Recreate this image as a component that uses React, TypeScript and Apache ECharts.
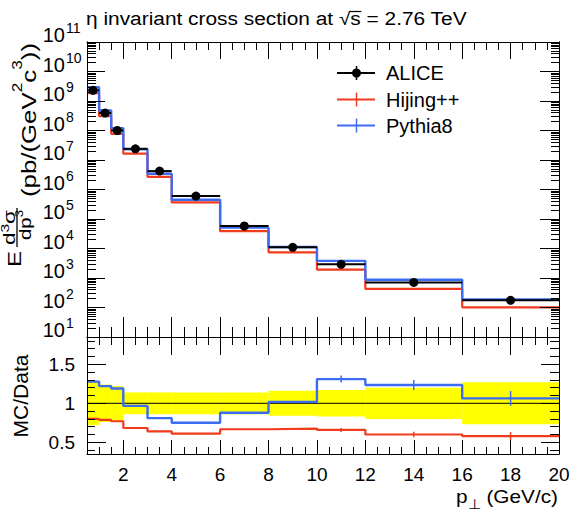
import React, { useEffect, useRef } from 'react';
import * as echarts from 'echarts';

// pT bin edges in GeV/c
const binEdges = [0.5, 1, 1.5, 2, 3, 4, 6, 8, 10, 12, 16, 20];
// invariant cross section per bin, pb/(GeV^2 c^3)
const aliceXsec = [2.3e9, 3.9e8, 1.0e8, 2.4e7, 4.2e6, 6.0e5, 5.8e4, 1.1e4, 2.9e3, 7.1e2, 1.75e2];
const hijingXsec = [1.84e9, 3.07e8, 7.7e7, 1.64e7, 2.69e6, 3.66e5, 3.87e4, 7.43e3, 1.91e3, 4.26e2, 1.015e2];
const pythiaXsec = [2.94e9, 4.76e8, 1.19e8, 2.32e7, 3.4e6, 4.5e5, 5.1e4, 1.12e4, 3.8e3, 8.77e2, 1.86e2];
// relative uncertainty of the measurement (band around 1)
const aliceRelUnc = [0.28, 0.24, 0.22, 0.14, 0.14, 0.14, 0.14, 0.16, 0.17, 0.2, 0.27];
// statistical uncertainty of the MC/Data ratios
const hijingRatioUnc = [0, 0, 0, 0, 0, 0, 0, 0.008, 0.025, 0.035, 0.05];
const pythiaRatioUnc = [0, 0, 0, 0, 0, 0, 0, 0.01, 0.045, 0.065, 0.095];

const decadeTicks = [1e1, 1e2, 1e3, 1e4, 1e5, 1e6, 1e7, 1e8, 1e9, 1e10, 1e11];
const ratioTickLabels = [0.5, 1, 1.5];
const ptTickLabels = [2, 4, 6, 8, 10, 12, 14, 16, 18, 20];
const legendNames = ['ALICE', 'Hijing++', 'Pythia8'];

const FONT = "'Liberation Sans', Arial, Helvetica, sans-serif";
const BLACK = '#000000';
const RED = '#f23a1d';
const BLUE = '#3b6cf2';
const YELLOW = '#ffff00';

const PT_MIN = 0.5;
const PT_MAX = 20;

const ptMinorTicks: number[] = [];
for (let i = 1; i <= 40; i++) ptMinorTicks.push(i * 0.5);
const ratioMinorTicks: number[] = [];
for (let i = 4; i <= 18; i++) ratioMinorTicks.push(i / 10);
const logMinorTicks: number[] = [];
for (let e = 1; e <= 10; e++) for (let m = 2; m <= 9; m++) logMinorTicks.push(m * Math.pow(10, e));

let measureCtx: CanvasRenderingContext2D | null = null;
function textWidth(t: string, size: number): number {
  if (!measureCtx) measureCtx = document.createElement('canvas').getContext('2d');
  measureCtx!.font = `${size}px ${FONT}`;
  return measureCtx!.measureText(t).width;
}

type Piece = { t: string; size: number; dy: number };
// lays pieces of text one after another along a line, stretched to a given length
function runPieces(pieces: Piece[], x0: number, y0: number, length: number) {
  const widths = pieces.map((p) => textWidth(p.t, p.size));
  const total = widths.reduce((a, b) => a + b, 0);
  const k = length / total;
  let cur = x0;
  return pieces.map((p, i) => {
    const el = {
      type: 'text',
      x: cur,
      y: y0 + p.dy,
      scaleX: k,
      silent: true,
      style: {
        text: p.t,
        fontSize: p.size,
        fontFamily: FONT,
        fill: BLACK,
        align: 'left',
        verticalAlign: 'middle',
        textAlign: 'left',
        textVerticalAlign: 'middle',
      },
    };
    cur += widths[i] * k;
    return el;
  });
}

function histPoints(vals: number[]) {
  const pts: number[][] = [];
  vals.forEach((v, i) => {
    pts.push([binEdges[i], v], [binEdges[i + 1], v]);
  });
  return pts;
}

const tickStyle = { color: BLACK, width: 1 };

function xAxisDef(gridIndex: number, position: string, ticks: number[], len: number, labels = false, showLine = true) {
  return {
    type: 'value',
    gridIndex,
    position,
    min: PT_MIN,
    max: PT_MAX,
    z: 10,
    axisLine: { show: showLine, onZero: false, lineStyle: { color: BLACK, width: 1 } },
    axisTick: { show: true, inside: true, length: len, customValues: ticks, lineStyle: tickStyle },
    axisLabel: labels
      ? {
          show: true,
          customValues: ptTickLabels,
          margin: 11,
          fontSize: 19,
          fontFamily: FONT,
          color: BLACK,
          formatter: (v: number) => String(v),
        }
      : { show: false },
    splitLine: { show: false },
  };
}

function yLogAxisDef(position: string, ticks: number[], len: number) {
  return {
    type: 'log',
    logBase: 10,
    gridIndex: 0,
    position,
    min: 10,
    max: 1e11,
    z: 10,
    axisLine: { show: true, onZero: false, lineStyle: { color: BLACK, width: 1 } },
    axisTick: { show: true, inside: true, length: len, customValues: ticks, lineStyle: tickStyle },
    axisLabel: { show: false },
    splitLine: { show: false },
  };
}

// decade labels of the log axis: the base "10" and its exponent sit on two overlaid axes
function yLogLabelAxis(part: 'base' | 'exp') {
  const isBase = part === 'base';
  return {
    type: 'log',
    logBase: 10,
    gridIndex: 0,
    position: 'left',
    min: 10,
    max: 1e11,
    z: 10,
    axisLine: { show: false },
    axisTick: { show: false },
    axisLabel: {
      show: true,
      customValues: decadeTicks,
      margin: isBase ? 22 : 21,
      align: isBase ? 'right' : 'left',
      verticalAlign: 'bottom',
      lineHeight: isBase ? 14 : 28,
      fontSize: isBase ? 20 : 14,
      fontFamily: FONT,
      color: BLACK,
      formatter: (v: number) => (isBase ? '10' : String(Math.round(Math.log10(v)))),
    },
    splitLine: { show: false },
  };
}

function yRatioAxisDef(position: string, ticks: number[], len: number, labels = false) {
  return {
    type: 'value',
    gridIndex: 1,
    position,
    min: 0.35,
    max: 1.85,
    z: 10,
    axisLine: { show: true, onZero: false, lineStyle: { color: BLACK, width: 1 } },
    axisTick: { show: true, inside: true, length: len, customValues: ticks, lineStyle: tickStyle },
    axisLabel: labels
      ? {
          show: true,
          customValues: ratioTickLabels,
          margin: 12,
          fontSize: 19,
          fontFamily: FONT,
          color: BLACK,
          formatter: (v: number) => String(v),
        }
      : { show: false },
    splitLine: { show: false },
  };
}

function buildOption() {
  const hijingRatio = hijingXsec.map((v, i) => v / aliceXsec[i]);
  const pythiaRatio = pythiaXsec.map((v, i) => v / aliceXsec[i]);
  const centers = binEdges.slice(0, -1).map((lo, i) => (lo + binEdges[i + 1]) / 2);

  const errItems = (ratio: number[], unc: number[]) =>
    ratio
      .map((r, i) => [centers[i], r - unc[i], r + unc[i]])
      .filter((_, i) => unc[i] > 0);

  const errRender = (color: string) => (params: any, api: any) => {
    const a = api.coord([api.value(0), api.value(1)]);
    const b = api.coord([api.value(0), api.value(2)]);
    return {
      type: 'line',
      shape: { x1: a[0], y1: a[1], x2: b[0], y2: b[1] },
      style: { stroke: color, lineWidth: 1.5 },
    };
  };

  // title with an overline over the "s" of sqrt(s)
  const titleA = 'η invariant cross section at √';
  const titleB = 's';
  const titleC = ' = 2.76 TeV';
  const titleSize = 18;
  const wA = textWidth(titleA, titleSize);
  const wB = textWidth(titleB, titleSize);
  const wC = textWidth(titleC, titleSize);
  const titleX = 86;
  const titleK = 381 / (wA + wB + wC);

  const legendY = [73, 99.5, 125.5];
  const legendColors = [BLACK, RED, BLUE];

  const legendEls: any[] = [];
  legendNames.forEach((name, i) => {
    const y = legendY[i];
    legendEls.push({
      type: 'line',
      silent: true,
      shape: { x1: 337, y1: y, x2: 375, y2: y },
      style: { stroke: legendColors[i], lineWidth: 2 },
    });
    legendEls.push({
      type: 'line',
      silent: true,
      shape: { x1: 356.5, y1: y - 7, x2: 356.5, y2: y + 7 },
      style: { stroke: legendColors[i], lineWidth: 1.5 },
    });
    if (i === 0) {
      legendEls.push({
        type: 'circle',
        silent: true,
        shape: { cx: 356.5, cy: y, r: 4.5 },
        style: { fill: BLACK },
      });
    }
    legendEls.push({
      type: 'text',
      silent: true,
      x: 386,
      y,
      style: {
        text: name,
        fontSize: 20,
        fontFamily: FONT,
        fill: BLACK,
        align: 'left',
        verticalAlign: 'middle',
        textAlign: 'left',
        textVerticalAlign: 'middle',
      },
    });
  });

  // vertical axis title of the upper panel, written bottom to top
  const yTitleChildren: any[] = [
    ...runPieces([{ t: 'E', size: 19, dy: 0 }], 5, 13.5, 16),
    {
      type: 'line',
      silent: true,
      shape: { x1: 25, y1: 16, x2: 64, y2: 16 },
      style: { stroke: BLACK, lineWidth: 1.3 },
    },
    ...runPieces(
      [
        { t: 'd', size: 16, dy: 0 },
        { t: '3', size: 11, dy: -4 },
        { t: 'σ', size: 16, dy: 0 },
      ],
      27,
      8,
      35
    ),
    ...runPieces(
      [
        { t: 'dp', size: 17, dy: 0 },
        { t: '3', size: 11, dy: -6 },
      ],
      32,
      24.5,
      30
    ),
    ...runPieces(
      [
        { t: '(pb/(GeV', size: 21, dy: 0 },
        { t: '2', size: 14, dy: -12 },
        { t: 'c', size: 21, dy: 0 },
        { t: '3', size: 14, dy: -12 },
        { t: '))', size: 21, dy: 0 },
      ],
      75,
      27.7,
      154
    ),
  ];

  const graphic: any[] = [
    {
      type: 'text',
      silent: true,
      x: titleX,
      y: 18.8,
      scaleX: titleK,
      style: {
        text: titleA + titleB + titleC,
        fontSize: titleSize,
        fontFamily: FONT,
        fill: BLACK,
        align: 'left',
        verticalAlign: 'middle',
        textAlign: 'left',
        textVerticalAlign: 'middle',
      },
    },
    {
      type: 'line',
      silent: true,
      shape: {
        x1: titleX + wA * titleK - 0.5,
        y1: 11.5,
        x2: titleX + (wA + wB) * titleK + 0.5,
        y2: 11.5,
      },
      style: { stroke: BLACK, lineWidth: 1.2 },
    },
    ...legendEls,
    { type: 'group', x: 1, y: 272, rotation: Math.PI / 2, children: yTitleChildren },
    {
      type: 'text',
      silent: true,
      x: 20.7,
      y: 396,
      rotation: Math.PI / 2,
      style: {
        text: 'MC/Data',
        fontSize: 21,
        fontFamily: FONT,
        fill: BLACK,
        align: 'center',
        verticalAlign: 'middle',
        textAlign: 'center',
        textVerticalAlign: 'middle',
      },
    },
    ...runPieces(
      [
        { t: 'p', size: 19, dy: 0 },
        { t: '⊥', size: 14, dy: 7.5 },
        { t: ' (GeV/c)', size: 19, dy: 0 },
      ],
      456,
      496.4,
      102
    ),
  ];

  return {
    animation: false,
    backgroundColor: '#ffffff',
    grid: [
      { left: 87, top: 42, width: 472, height: 295, outerBoundsMode: 'none', containLabel: false },
      { left: 87, top: 337, width: 472, height: 117, outerBoundsMode: 'none', containLabel: false },
    ],
    xAxis: [
      xAxisDef(0, 'bottom', ptTickLabels, 20),
      xAxisDef(0, 'bottom', ptMinorTicks, 10, false, false),
      xAxisDef(0, 'top', ptTickLabels, 17),
      xAxisDef(0, 'top', ptMinorTicks, 8, false, false),
      xAxisDef(1, 'bottom', ptTickLabels, 14, true),
      xAxisDef(1, 'bottom', ptMinorTicks, 7, false, false),
      xAxisDef(1, 'top', ptTickLabels, 18),
      xAxisDef(1, 'top', ptMinorTicks, 8, false, false),
    ],
    yAxis: [
      yLogAxisDef('left', decadeTicks, 18),
      yLogAxisDef('left', logMinorTicks, 9),
      yLogAxisDef('right', decadeTicks, 19),
      yLogAxisDef('right', logMinorTicks, 8),
      yRatioAxisDef('left', ratioTickLabels, 19, true),
      yRatioAxisDef('left', ratioMinorTicks, 8),
      yRatioAxisDef('right', ratioTickLabels, 18),
      yRatioAxisDef('right', ratioMinorTicks, 9),
      yLogLabelAxis('base'),
      yLogLabelAxis('exp'),
    ],
    graphic,
    series: [
      {
        name: 'Hijing++',
        type: 'line',
        xAxisIndex: 0,
        yAxisIndex: 0,
        data: histPoints(hijingXsec),
        showSymbol: false,
        symbol: 'none',
        lineStyle: { color: RED, width: 2.2 },
        z: 3,
      },
      {
        name: 'Pythia8',
        type: 'line',
        xAxisIndex: 0,
        yAxisIndex: 0,
        data: histPoints(pythiaXsec),
        showSymbol: false,
        symbol: 'none',
        lineStyle: { color: BLUE, width: 2.4 },
        z: 4,
      },
      {
        name: 'ALICE',
        type: 'custom',
        xAxisIndex: 0,
        yAxisIndex: 0,
        encode: { x: [0, 1], y: 2 },
        data: aliceXsec.map((v, i) => [binEdges[i], binEdges[i + 1], v]),
        z: 5,
        renderItem: (params: any, api: any) => {
          const lo = api.value(0);
          const hi = api.value(1);
          const v = api.value(2);
          const a = api.coord([lo, v]);
          const b = api.coord([hi, v]);
          const c = api.coord([(lo + hi) / 2, v]);
          return {
            type: 'group',
            children: [
              { type: 'line', shape: { x1: a[0], y1: a[1], x2: b[0], y2: b[1] }, style: { stroke: BLACK, lineWidth: 2 } },
              { type: 'circle', shape: { cx: c[0], cy: c[1], r: 4.5 }, style: { fill: BLACK } },
            ],
          };
        },
      },
      {
        name: 'Data uncertainty',
        type: 'custom',
        xAxisIndex: 4,
        yAxisIndex: 4,
        encode: { x: [0, 1], y: [2, 3] },
        data: aliceRelUnc.map((u, i) => [binEdges[i], binEdges[i + 1], 1 - u, 1 + u]),
        z: 1,
        renderItem: (params: any, api: any) => {
          const a = api.coord([api.value(0), api.value(3)]);
          const b = api.coord([api.value(1), api.value(2)]);
          return {
            type: 'rect',
            shape: { x: a[0], y: a[1], width: b[0] - a[0], height: b[1] - a[1] },
            style: { fill: YELLOW },
          };
        },
      },
      {
        name: 'Unity',
        type: 'line',
        xAxisIndex: 4,
        yAxisIndex: 4,
        data: [
          [PT_MIN, 1],
          [PT_MAX, 1],
        ],
        showSymbol: false,
        symbol: 'none',
        lineStyle: { color: BLACK, width: 1 },
        z: 2,
      },
      {
        name: 'Hijing++/Data',
        type: 'line',
        xAxisIndex: 4,
        yAxisIndex: 4,
        data: histPoints(hijingRatio),
        showSymbol: false,
        symbol: 'none',
        lineStyle: { color: RED, width: 2.2 },
        z: 3,
      },
      {
        name: 'Pythia8/Data',
        type: 'line',
        xAxisIndex: 4,
        yAxisIndex: 4,
        data: histPoints(pythiaRatio),
        showSymbol: false,
        symbol: 'none',
        lineStyle: { color: BLUE, width: 2.4 },
        z: 3,
      },
      {
        name: 'Hijing++/Data err',
        type: 'custom',
        xAxisIndex: 4,
        yAxisIndex: 4,
        encode: { x: 0, y: [1, 2] },
        data: errItems(hijingRatio, hijingRatioUnc),
        z: 4,
        renderItem: errRender(RED),
      },
      {
        name: 'Pythia8/Data err',
        type: 'custom',
        xAxisIndex: 4,
        yAxisIndex: 4,
        encode: { x: 0, y: [1, 2] },
        data: errItems(pythiaRatio, pythiaRatioUnc),
        z: 4,
        renderItem: errRender(BLUE),
      },
    ],
  };
}

export default function App() {
  const ref = useRef<HTMLDivElement>(null);
  useEffect(() => {
    if (!ref.current) return;
    document.body.style.margin = '0';
    const chart = echarts.init(ref.current, undefined, { renderer: 'svg' });
    chart.setOption(buildOption() as any);
    return () => {
      chart.dispose();
    };
  }, []);
  return (
    <div
      ref={ref}
      style={{ position: 'absolute', left: 0, top: 0, width: 582, height: 514, background: '#ffffff' }}
    />
  );
}
